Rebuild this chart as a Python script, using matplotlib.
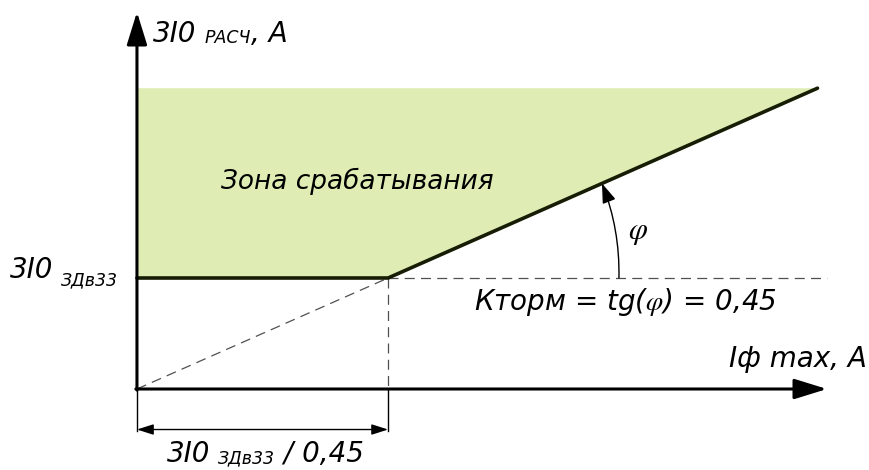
"""
Characteristic of the 3I0 protection with braking (Кторм = 0,45).
Saves the figure to out.png.
"""

import matplotlib

matplotlib.use("Agg")
import matplotlib.pyplot as plt


# chart values
PICKUP = 1.0          # 3I0 ЗДв33
K_TORM = 0.45         # Кторм = tg(phi)
Y_TOP = 2.71          # upper edge of the operating zone
AXIS_X_END = 6.106
AXIS_Y_END = 3.396
DIM_Y = -0.365

FONT = ["DejaVu Sans"]
MAIN_SIZE = 20
SUB_SIZE = 12.5
FILL_COLOR = "#dfedb5"
LINE_COLOR = "#161d04"
DASH_COLOR = "#505050"

plt.rcParams["mathtext.fontset"] = "stix"


def label(fig, ax, x, y, main, sub, tail, gap=8, drop=1):
    """Text with a lowered, smaller subscript in the middle (gap/drop in px)."""

    renderer = fig.canvas.get_renderer()
    style = dict(style="italic", family=FONT, ha="left", va="baseline")

    t1 = ax.text(x, y, main, fontsize=MAIN_SIZE, **style)
    x0, y0 = ax.transData.transform((x, y))

    bb = t1.get_window_extent(renderer)
    xs, ys = ax.transData.inverted().transform((bb.x1 + gap, y0 - drop))
    t2 = ax.text(xs, ys, sub, fontsize=SUB_SIZE, **style)

    if tail:
        bb = t2.get_window_extent(renderer)
        xt, yt = ax.transData.inverted().transform((bb.x1, y0))
        ax.text(xt, yt, tail, fontsize=MAIN_SIZE, **style)


fig = plt.figure(figsize=(8.69, 4.70), dpi=100)
ax = fig.add_axes([0, 0, 1, 1])
ax.set_xlim(-1.212, 6.478)
ax.set_ylim(-0.7297, 3.5045)
ax.axis("off")

knee_x = PICKUP / K_TORM
x_end = Y_TOP / K_TORM

# operating zone
ax.fill([0, 0, knee_x, x_end], [Y_TOP, PICKUP, PICKUP, Y_TOP],
        color=FILL_COLOR, linewidth=0, zorder=1)

# characteristic
ax.plot([0, knee_x, x_end], [PICKUP, PICKUP, Y_TOP], color=LINE_COLOR,
        linewidth=2.6, solid_capstyle="round", solid_joinstyle="round", zorder=3)

# dashed helper lines
dash = dict(color=DASH_COLOR, linewidth=0.9, linestyle=(0, (8, 5)), zorder=2)
ax.plot([0, knee_x], [0, PICKUP], **dash)
ax.plot([knee_x, AXIS_X_END], [PICKUP, PICKUP], **dash)
ax.plot([knee_x, knee_x], [PICKUP, 0], **dash)

# extension lines and dimension
ax.plot([0, 0], [0, DIM_Y - 0.01], color="black", linewidth=1)
ax.plot([knee_x, knee_x], [0, DIM_Y - 0.01], color="black", linewidth=1)
ax.annotate("", xy=(knee_x, DIM_Y), xytext=(0, DIM_Y),
            arrowprops=dict(arrowstyle="<|-|>,head_length=1.0,head_width=0.32",
                            mutation_scale=10, color="black", linewidth=1,
                            shrinkA=0, shrinkB=0))

# axes with arrows
axis_arrow = dict(arrowstyle="-|>,head_length=2.0,head_width=0.62",
                  mutation_scale=10, color="black", linewidth=2.2,
                  shrinkA=0, shrinkB=0)
ax.annotate("", xy=(AXIS_X_END, 0), xytext=(-0.01, 0), arrowprops=axis_arrow,
            zorder=4)
ax.annotate("", xy=(0, AXIS_Y_END), xytext=(0, -0.01), arrowprops=axis_arrow,
            zorder=4)

# angle arc
ax.annotate("", xy=(4.115, 1.852), xytext=(knee_x + 2.043, PICKUP),
            arrowprops=dict(arrowstyle="-|>,head_length=1.2,head_width=0.42",
                            mutation_scale=10, color="black", linewidth=1,
                            connectionstyle="arc3,rad=0.1",
                            shrinkA=0, shrinkB=0))
ax.text(4.434, 1.414, r"$\varphi$", fontsize=22, ha="center", va="center")

# texts
ax.text(1.947, 1.874, "Зона срабатывания", fontsize=19, style="italic",
        family=FONT, ha="center", va="center")
ax.text(4.319, 0.784, r"Кторм = tg($\varphi$) = 0,45", fontsize=MAIN_SIZE,
        style="italic", family=FONT, ha="center", va="center")
ax.text(6.46, 0.198, "Iф max, A", fontsize=MAIN_SIZE, style="italic",
        family=FONT, ha="right", va="baseline")

label(fig, ax, 0.142, 3.126, "3I0", "РАСЧ", ", A", gap=8, drop=1)
label(fig, ax, -1.124, 1.0, "3I0", "ЗДв33", "", gap=8, drop=7)
label(fig, ax, 0.265, -0.658, "3I0", "ЗДв33", " / 0,45", gap=8, drop=1)

fig.savefig("out.png", dpi=100)
plt.close(fig)
